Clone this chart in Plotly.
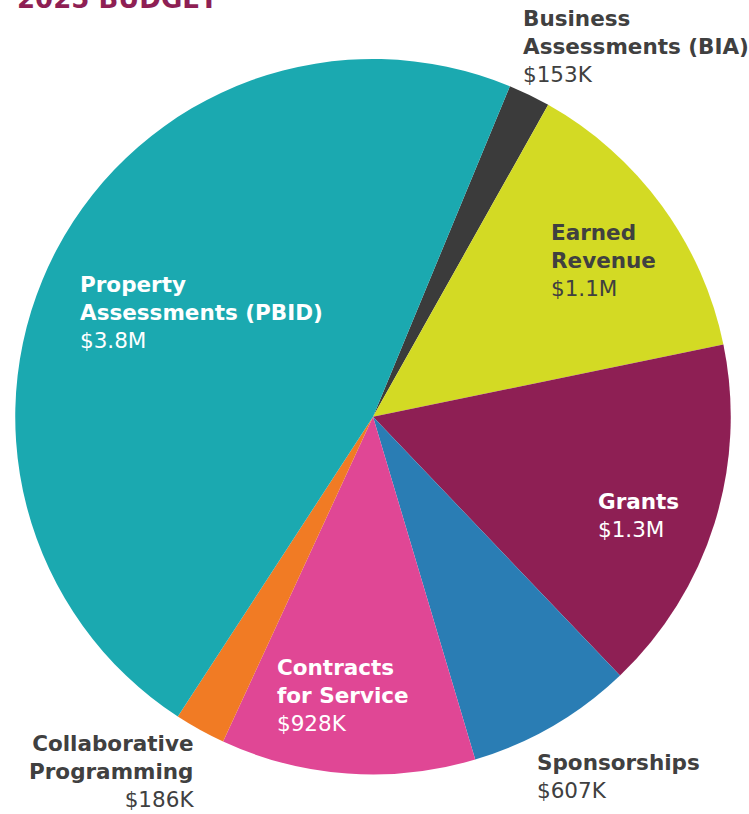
import plotly.graph_objects as go

categories = ["Business Assessments (BIA)", "Earned Revenue", "Grants", "Sponsorships",
              "Contracts for Service", "Collaborative Programming", "Property Assessments (PBID)"]
values = [153, 1100, 1300, 607, 928, 186, 3800]  # thousands of dollars
value_labels = ["$153K", "$1.1M", "$1.3M", "$607K", "$928K", "$186K", "$3.8M"]
label_lines = [["Business", "Assessments (BIA)"], ["Earned", "Revenue"], ["Grants"], ["Sponsorships"],
               ["Contracts", "for Service"], ["Collaborative", "Programming"], ["Property", "Assessments (PBID)"]]
colors = ["#3B3B3B", "#D3DA24", "#8E1F54", "#2A7DB4", "#E04795", "#F17B24", "#1BA9B0"]

W, H = 749, 814
fig = go.Figure(go.Pie(
    labels=categories, values=values, sort=False, direction="clockwise", rotation=22.5,
    marker=dict(colors=colors, line=dict(width=0)), textinfo="none", hoverinfo="label+value",
    domain=dict(x=[15 / W, 731 / W], y=[39.5 / H, 755 / H]), showlegend=False,
))

FONT = "DejaVu Sans"
# label anchor in pixels (x, vertical centre of the first line) and style
label_pos = [
    (521, 18, "left", "#404040"),
    (549, 232, "left", "#404040"),
    (596, 501, "left", "#FFFFFF"),
    (535, 762, "left", "#404040"),
    (275, 667, "left", "#FFFFFF"),
    (196, 743, "right", "#404040"),
    (78, 284, "left", "#FFFFFF"),
]
LINE = 28.8
for lines, val, (px, py, al, col) in zip(label_lines, value_labels, label_pos):
    all_lines = [f"<b>{l}</b>" for l in lines] + [val]
    n = len(all_lines)
    mid = py + LINE * (n - 1) / 2
    fig.add_annotation(
        x=px / W, y=1 - mid / H, xref="paper", yref="paper", text="<br>".join(all_lines),
        showarrow=False, xanchor=al, yanchor="middle", align=al,
        font=dict(family=FONT, size=21.5, color=col),
    )

fig.add_annotation(x=15 / W, y=1 - 16 / H, xref="paper", yref="paper", text="<b>2025 BUDGET</b>",
                   showarrow=False, xanchor="left", yanchor="bottom",
                   font=dict(family=FONT, size=26, color="#8E1F54"))

fig.update_layout(width=W, height=H, margin=dict(l=0, r=0, t=0, b=0),
                  paper_bgcolor="white", plot_bgcolor="white")
fig.write_html("out.html", config={"displayModeBar": False},
               post_script="document.body.style.margin='0';document.body.style.padding='0';")
